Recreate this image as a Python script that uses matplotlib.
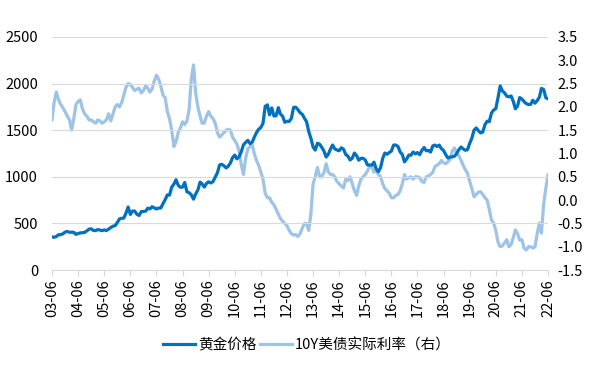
import matplotlib
matplotlib.use("Agg")
import matplotlib.pyplot as plt
import matplotlib.dates as mdates
import numpy as np
import pandas as pd

plt.rcParams['font.family'] = ['Noto Sans CJK SC', 'DejaVu Sans']

# monthly, 2003-06 .. 2022-06
months = pd.date_range("2003-06-01", "2022-06-01", freq="MS")

gold = [
    356, 351, 360, 379, 379, 389, 407,
    414, 405, 406, 404, 383, 392, 398, 400, 405, 420, 439, 442,
    424, 423, 434, 429, 422, 430, 424, 438, 456, 470, 476, 510,
    549, 555, 557, 610, 676, 596, 633, 632, 598, 585, 627, 629,
    631, 664, 655, 679, 667, 655, 665, 665, 712, 754, 806, 803,
    889, 922, 968, 909, 888, 889, 939, 839, 829, 806, 760, 816,
    858, 943, 924, 890, 928, 946, 934, 949, 996, 1043, 1127, 1134,
    1118, 1095, 1113, 1148, 1205, 1233, 1193, 1215, 1271, 1343, 1370, 1391,
    1356, 1372, 1424, 1474, 1510, 1529, 1573, 1756, 1772, 1665, 1739, 1652,
    1656, 1742, 1673, 1650, 1585, 1596, 1594, 1626, 1744, 1747, 1721, 1688,
    1670, 1627, 1593, 1487, 1414, 1320, 1286, 1360, 1349, 1316, 1275, 1212,
    1244, 1300, 1341, 1299, 1288, 1279, 1311, 1296, 1239, 1222, 1180, 1200,
    1255, 1227, 1178, 1198, 1199, 1181, 1128, 1127, 1125, 1157, 1086, 1055,
    1097, 1200, 1255, 1242, 1260, 1276, 1340, 1341, 1326, 1267, 1238, 1160,
    1192, 1234, 1231, 1266, 1246, 1260, 1237, 1283, 1314, 1280, 1282, 1265,
    1331, 1340, 1325, 1340, 1303, 1282, 1238, 1201, 1212, 1215, 1221, 1250,
    1291, 1320, 1300, 1285, 1290, 1359, 1413, 1500, 1524, 1495, 1471, 1480,
    1560, 1597, 1591, 1683, 1716, 1732, 1847, 1975, 1921, 1900, 1866, 1858,
    1867, 1808, 1730, 1760, 1850, 1834, 1807, 1785, 1775, 1777, 1821, 1790,
    1817, 1856, 1948, 1937, 1849, 1837,
]

real_rate = [
    1.72, 2.10, 2.32, 2.15, 2.05, 1.98, 1.90,
    1.80, 1.72, 1.50, 1.75, 2.05, 2.12, 2.15, 1.95, 1.85, 1.80, 1.72, 1.72,
    1.68, 1.65, 1.72, 1.70, 1.65, 1.68, 1.72, 1.85, 1.70, 1.85, 2.00, 2.05,
    2.00, 2.10, 2.25, 2.42, 2.50, 2.48, 2.42, 2.35, 2.38, 2.40, 2.30, 2.35,
    2.45, 2.40, 2.32, 2.38, 2.55, 2.68, 2.60, 2.45, 2.25, 2.20, 1.90, 1.75,
    1.50, 1.15, 1.25, 1.45, 1.55, 1.68, 1.62, 1.70, 1.95, 2.60, 2.90, 2.30,
    2.00, 1.80, 1.65, 1.65, 1.80, 1.90, 1.80, 1.75, 1.65, 1.45, 1.35, 1.40,
    1.45, 1.50, 1.52, 1.50, 1.35, 1.28, 1.20, 1.05, 0.75, 0.55, 0.90, 1.10,
    1.15, 1.18, 1.00, 0.85, 0.75, 0.60, 0.45, 0.15, 0.05, 0.05, -0.05, -0.10,
    -0.20, -0.30, -0.40, -0.45, -0.50, -0.55, -0.65, -0.72, -0.75, -0.74, -0.78, -0.72,
    -0.60, -0.50, -0.50, -0.65, -0.30, 0.35, 0.50, 0.70, 0.50, 0.50, 0.60, 0.78,
    0.60, 0.55, 0.55, 0.50, 0.40, 0.35, 0.30, 0.26, 0.45, 0.42, 0.50, 0.35,
    0.20, 0.10, 0.30, 0.45, 0.50, 0.55, 0.62, 0.72, 0.72, 0.60, 0.65, 0.55,
    0.50, 0.35, 0.25, 0.20, 0.15, 0.05, 0.05, 0.10, 0.12, 0.20, 0.35, 0.55,
    0.45, 0.48, 0.50, 0.45, 0.50, 0.50, 0.48, 0.40, 0.38, 0.50, 0.52, 0.55,
    0.60, 0.72, 0.75, 0.78, 0.85, 0.80, 0.78, 0.82, 0.88, 1.05, 1.12, 1.00,
    0.95, 0.85, 0.75, 0.65, 0.58, 0.40, 0.25, 0.07, 0.12, 0.17, 0.18, 0.12,
    0.05, 0.00, -0.20, -0.43, -0.49, -0.65, -0.90, -1.00, -0.98, -0.92, -0.85, -1.00,
    -0.95, -0.80, -0.64, -0.72, -0.86, -0.85, -1.03, -1.07, -1.00, -1.00, -1.03, -1.00,
    -0.72, -0.49, -0.71, -0.10, 0.25, 0.54,
]

dark = '#0070C0'
light = '#9DC3E6'

fig = plt.figure(figsize=(6.14, 3.71), dpi=100)
ax = fig.add_axes([0.0847, 0.2722, 0.8078, 0.6281])
ax2 = ax.twinx()

l2, = ax2.plot(months, real_rate, color=light, lw=2.3, label='10Y美债实际利率（右）')
l1, = ax.plot(months, gold, color=dark, lw=2.3, label='黄金价格')
ax.set_zorder(ax2.get_zorder() + 1)
ax.patch.set_visible(False)

ax.set_ylim(0, 2500)
ax.set_yticks(np.arange(0, 2501, 500))
ax2.set_ylim(-1.5, 3.5)
ax2.set_yticks(np.arange(-1.5, 3.51, 0.5))
ax2.set_yticklabels([f'{v:.1f}' for v in np.arange(-1.5, 3.51, 0.5)])

ax.grid(axis='y', color='#D9D9D9', lw=0.8)
ax.set_axisbelow(True)

ticks = pd.date_range("2003-06-01", "2022-06-01", freq="12MS")
ax.set_xticks(ticks)
ax.xaxis.set_major_formatter(mdates.DateFormatter('%y-%m'))
ax.set_xlim(ticks[0], ticks[-1])
plt.setp(ax.get_xticklabels(), rotation=90)

for a in (ax, ax2):
    for s in ('top', 'left', 'right'):
        a.spines[s].set_visible(False)
    a.spines['bottom'].set_visible(False)
ax.spines['bottom'].set_visible(True)
ax.spines['bottom'].set_color('#D9D9D9')

ax.tick_params(axis='y', length=0, labelsize=10.5, pad=10, colors='#000000')
ax2.tick_params(axis='y', length=0, labelsize=10.5, pad=7, colors='#000000')
ax.tick_params(axis='x', length=4, color='#D9D9D9', labelsize=10.5, pad=3)

fig.legend([l1, l2], ['黄金价格', '10Y美债实际利率（右）'], loc='center',
           bbox_to_anchor=(0.5, 0.07), ncol=2, frameon=False, fontsize=10.5,
           handlelength=2.2, handletextpad=0.2, columnspacing=0.2)

fig.savefig('out.png', dpi=100)
